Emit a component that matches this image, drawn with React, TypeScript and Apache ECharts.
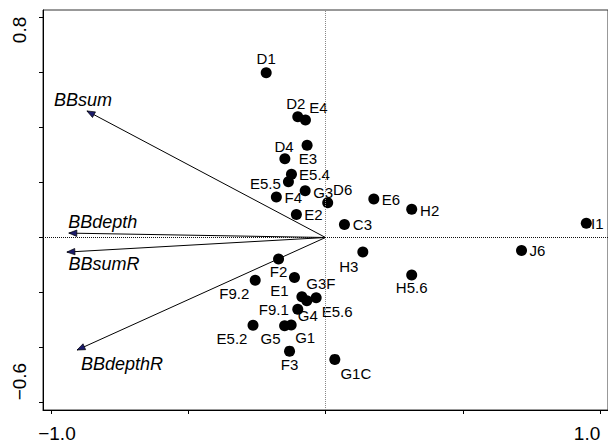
import React, { useEffect, useRef } from 'react';
import * as echarts from 'echarts';

// Site scores
const siteNames = ['D1', 'D2', 'E4', 'D4', 'E3', 'E5.4', 'E5.5', 'F4', 'G3', 'D6', 'E2', 'C3', 'E6', 'H2', 'I1',
  'H3', 'J6', 'H5.6', 'F2', 'E1', 'F9.2', 'G3F', 'G4', 'E5.6', 'F9.1', 'E5.2', 'G5', 'G1', 'F3', 'G1C'];
const siteX = [-0.216, -0.101, -0.073, -0.067, -0.148, -0.124, -0.135, -0.179, -0.074, 0.008, -0.106, 0.069, 0.176, 0.314, 0.950,
  0.136, 0.714, 0.314, -0.171, -0.113, -0.256, -0.086, -0.068, -0.034, -0.101, -0.264, -0.149, -0.125, -0.131, 0.034];
const siteY = [0.599, 0.439, 0.427, 0.335, 0.286, 0.230, 0.203, 0.147, 0.170, 0.126, 0.084, 0.047, 0.140, 0.103, 0.052,
  -0.053, -0.047, -0.136, -0.078, -0.145, -0.155, -0.215, -0.230, -0.219, -0.261, -0.319, -0.321, -0.318, -0.413, -0.443];

// Environmental vectors
const vectorNames = ['BBsum', 'BBdepth', 'BBsumR', 'BBdepthR'];
const vectorX = [-0.869, -0.935, -0.942, -0.905];
const vectorY = [0.460, 0.016, -0.053, -0.409];

// Axis ticks and labels
const xTickValues = [-1, -0.5, 0, 0.5, 1];
const yTickValues = [-0.6, -0.4, -0.2, 0, 0.2, 0.4, 0.6, 0.8];
const xLabelValues = [-1, 1];
const xLabelTexts = ['\u22121.0', '1.0'];
const yLabelValues = [0.8, -0.6];
const yLabelTexts = ['0.8', '\u22120.6'];

// Layout (pixel offsets of text from its anchor)
const siteLabelOffsets: number[][] = [
  [0, -14], [-2, -13], [13, -13], [-23, 1], [23, 0], [23, 0], [-23, 2], [17, 0], [18, 2], [15, -13], [17, 0], [18, 0], [17, 1], [18, 1], [11, 0],
  [-14, 14], [16, 0], [0, 13], [0, 13], [-15, 13], [-21, 13], [19, -13], [1, 15], [21, 14], [-24, 0], [-21, 13], [-14, 13], [14, 13], [0, 13], [21, 14],
];
const vectorLabelOffsets: number[][] = [[-4, -11], [34, -11], [37, 12], [45, 14]];
const xLabelOffsets = [6, -13];
const yLabelOffsets = [12.5, -21];

const FONT = '"Liberation Sans", Arial, Helvetica, sans-serif';

export default function App() {
  const ref = useRef<HTMLDivElement>(null);
  useEffect(() => {
    if (!ref.current) return;
    const chart = echarts.init(ref.current, undefined, { renderer: 'svg' });
    const sites = siteNames.map((n, i) => ({
      name: n,
      value: [siteX[i], siteY[i]],
      label: { offset: siteLabelOffsets[i] },
    }));
    const vectors = vectorNames.map((n, i) => ({ name: n, value: [vectorX[i], vectorY[i]] }));
    chart.setOption({
      animation: false,
      backgroundColor: '#fff',
      grid: {
        left: 43, top: 10, width: 566, height: 400,
        show: true, borderColor: '#333', borderWidth: 1, backgroundColor: 'transparent',
      },
      xAxis: {
        type: 'value', min: -1.029, max: 1.029,
        axisLine: { show: true, onZero: false, lineStyle: { color: '#000', width: 1 } },
        axisTick: { show: true, customValues: xTickValues, inside: false, length: 4, lineStyle: { color: '#000' } },
        axisLabel: { show: false },
        splitLine: { show: false },
      },
      yAxis: {
        type: 'value', min: -0.627, max: 0.827,
        axisLine: { show: true, onZero: false, lineStyle: { color: '#000', width: 1 } },
        axisTick: { show: true, customValues: yTickValues, inside: false, length: 4, lineStyle: { color: '#000' } },
        axisLabel: { show: false },
        splitLine: { show: false },
      },
      series: [
        {
          type: 'scatter', data: [], z: 1, silent: true,
          markLine: {
            silent: true, symbol: ['none', 'none'], label: { show: false }, animation: false,
            data: [
              { xAxis: 0, lineStyle: { type: 'dotted', color: '#888', width: 1 } },
              { yAxis: 0, lineStyle: { type: [1, 1], color: '#111', width: 1 } },
            ],
          },
        },
        {
          type: 'custom', z: 2, silent: true,
          data: vectors,
          renderItem: (params: any, api: any) => {
            const i = params.dataIndex;
            const o = api.coord([0, 0]);
            const t = api.coord([api.value(0), api.value(1)]);
            const dx = t[0] - o[0], dy = t[1] - o[1];
            const len = Math.hypot(dx, dy);
            const ux = dx / len, uy = dy / len;
            const L = 8, W = 3.2;
            const bx = t[0] - ux * L, by = t[1] - uy * L;
            const p1 = [bx - uy * W, by + ux * W];
            const p2 = [bx + uy * W, by - ux * W];
            const off = vectorLabelOffsets[i];
            return {
              type: 'group',
              children: [
                { type: 'line', shape: { x1: o[0], y1: o[1], x2: t[0], y2: t[1] }, style: { stroke: '#000', lineWidth: 1 } },
                { type: 'polygon', shape: { points: [t, p1, p2] }, style: { fill: '#1b1b6b', stroke: '#000', lineWidth: 0.7 } },
                {
                  type: 'text', x: t[0] + off[0], y: t[1] + off[1],
                  style: {
                    text: vectorNames[i], fill: '#000', fontSize: 18, fontStyle: 'italic', fontFamily: FONT,
                    align: 'center', verticalAlign: 'middle', textAlign: 'center', textVerticalAlign: 'middle',
                  },
                },
              ],
            };
          },
        },
        {
          type: 'scatter', z: 3, silent: true,
          symbol: 'circle', symbolSize: 11,
          itemStyle: { color: '#000', opacity: 1 },
          data: sites,
          label: {
            show: true, position: 'inside', formatter: '{b}',
            color: '#000', fontSize: 15, fontFamily: FONT,
          },
        },
      ],
    });

    const graphic: any[] = [];
    xLabelValues.forEach((v, i) => {
      const p = chart.convertToPixel({ gridIndex: 0 }, [v, 0]) as number[];
      graphic.push({
        type: 'text', x: p[0] + xLabelOffsets[i], y: 433,
        style: {
          text: xLabelTexts[i], fill: '#000', fontSize: 19, fontFamily: FONT,
          align: 'center', verticalAlign: 'middle', textAlign: 'center', textVerticalAlign: 'middle',
        },
      });
    });
    yLabelValues.forEach((v, i) => {
      const p = chart.convertToPixel({ gridIndex: 0 }, [0, v]) as number[];
      graphic.push({
        type: 'text', x: 19, y: p[1] + yLabelOffsets[i], rotation: Math.PI / 2,
        style: {
          text: yLabelTexts[i], fill: '#000', fontSize: 19, fontFamily: FONT,
          align: 'center', verticalAlign: 'middle', textAlign: 'center', textVerticalAlign: 'middle',
        },
      });
    });
    chart.setOption({ graphic });

    return () => chart.dispose();
  }, []);
  return <div ref={ref} style={{ position: 'fixed', left: 0, top: 0, width: 608, height: 447, background: '#fff' }} />;
}
